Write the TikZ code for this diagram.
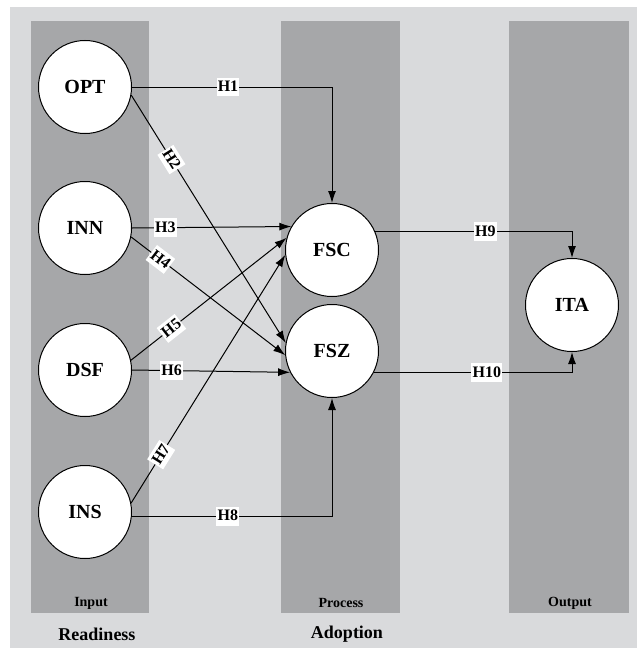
\documentclass[tikz,border=0pt]{standalone}
\usepackage{fontspec}
\setmainfont{Liberation Serif}
\usepackage{xcolor}
\usetikzlibrary{arrows.meta,positioning,calc}
\definecolor{panelgray}{RGB}{217,218,220}
\definecolor{colgray}{RGB}{166,167,169}

\begin{document}
\begin{tikzpicture}[x=0.5pt, y=-0.5pt,
    construct/.style={circle, draw, fill=white, line width=0.5pt, minimum size=46.5pt, inner sep=0pt, font=\bfseries\fontsize{10}{12}\selectfont},
    arrow/.style={-{Latex[length=6pt,width=4pt]}, line width=0.5pt},
    hyp/.style={fill=white, inner xsep=0.6pt, inner ysep=1.5pt, text height=5.6pt, text depth=0.8pt, font=\bfseries\fontsize{8}{9}\selectfont},
    stage/.style={font=\bfseries\fontsize{7}{8}\selectfont},
    layer/.style={font=\bfseries\fontsize{9}{10}\selectfont},
]
\useasboundingbox (0,0) rectangle (637,648);

% Background and columns
\fill[panelgray] (10,7) rectangle (637,648);
\fill[colgray] (31,21) rectangle (149,613);
\fill[colgray] (281,21) rectangle (400,613);
\fill[colgray] (509,21) rectangle (629,613);

% Input constructs
\node[construct] (opt) at (85,87) {OPT};
\node[construct] (inn) at (85,228) {INN};
\node[construct] (dsf) at (85,370) {DSF};
\node[construct] (ins) at (85,512) {INS};

% Process constructs
\node[construct] (fsc) at (332,250) {FSC};
\node[construct] (fsz) at (332,351) {FSZ};

% Output construct
\node[construct] (ita) at (572,305) {ITA};

% Hypotheses to FSC / FSZ
\draw[arrow] (opt.east) -| node[hyp, pos=0.24] {H1} (fsc.north);
\draw[arrow] (opt.-10) -- node[hyp, sloped, pos=0.26] {H2} (fsz.170);
\draw[arrow] (inn.east) -- node[hyp, pos=0.21] {H3} (fsc.150);
\draw[arrow] (inn.-11) -- node[hyp, sloped, pos=0.19] {H4} (fsz.185);
\draw[arrow] (dsf.12) -- node[hyp, sloped, pos=0.26] {H5} (fsc.165);
\draw[arrow] (dsf.east) -- node[hyp, pos=0.25] {H6} (fsz.207);
\draw[arrow] (ins.11) -- node[hyp, sloped, pos=0.195] {H7} (fsc.186);
\draw[arrow] (ins.-5) -| node[hyp, pos=0.24] {H8} (fsz.south);

% Hypotheses to ITA
\draw[arrow] (fsc.23) -| node[hyp, pos=0.28] {H9} (ita.north);
\draw[arrow] (fsz.-27) -| node[hyp, pos=0.285] {H10} (ita.south);

% Column labels
\node[stage] (input) at (91,603) {Input};
\node[stage] (process) at (341,603) {Process};
\node[stage] (output) at (570,603) {Output};
\node[layer] (readiness) at (97,634) {Readiness};
\node[layer] (adoption) at (347,634) {Adoption};
\end{tikzpicture}
\end{document}
